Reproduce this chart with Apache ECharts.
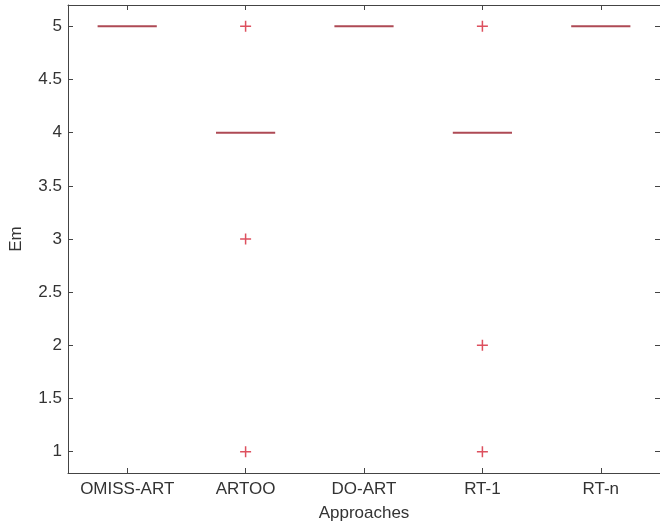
<!DOCTYPE html>
<html>
<head>
<meta charset="utf-8">
<script src="https://cdn.jsdelivr.net/npm/echarts@6/dist/echarts.min.js"></script>
<style>
  html, body { margin: 0; padding: 0; background: #fff; }
  #chart { width: 660px; height: 527px; }
</style>
</head>
<body>
<div id="chart"></div>
<script>
// Approaches along the x axis
var approaches = ['OMISS-ART', 'ARTOO', 'DO-ART', 'RT-1', 'RT-n'];
// Median Em per approach (boxes collapse onto the median)
var medians = [5, 4, 5, 4, 5];
// Outlier points: [approach index, Em]
var outliers = [
  [1, 5], [1, 3], [1, 1],
  [3, 5], [3, 2], [3, 1]
];
// Y-axis tick values
var yTicks = [1, 1.5, 2, 2.5, 3, 3.5, 4, 4.5, 5];
var yMin = 0.8, yMax = 5.2;

var textColor = '#333';
var axisColor = '#444';
var fontFamily = 'Liberation Sans, Arial, sans-serif';

var medianData = medians.map(function (v, i) { return [i, v]; });

var chart = echarts.init(document.getElementById('chart'), null, { renderer: 'canvas' });

var xBase = {
  type: 'category',
  data: approaches,
  boundaryGap: true,
  axisLine: { show: true, onZero: false, lineStyle: { color: axisColor, width: 1 } },
  axisTick: { show: true, inside: true, length: 5, alignWithLabel: true, interval: 0, lineStyle: { color: axisColor } },
  splitLine: { show: false }
};
var yBase = {
  type: 'value',
  min: yMin,
  max: yMax,
  axisLine: { show: true, onZero: false, lineStyle: { color: axisColor, width: 1 } },
  axisTick: { show: true, inside: true, length: 5, customValues: yTicks, lineStyle: { color: axisColor } },
  splitLine: { show: false }
};

chart.setOption({
  animation: false,
  backgroundColor: '#fff',
  grid: { left: 67, top: 5, width: 593, height: 468 },
  xAxis: [
    Object.assign({}, xBase, {
      position: 'bottom',
      name: 'Approaches',
      nameLocation: 'middle',
      nameGap: 32,
      nameTextStyle: { color: textColor, fontSize: 17, fontFamily: fontFamily },
      axisLabel: { show: true, interval: 0, margin: 8, color: textColor, fontSize: 17, fontFamily: fontFamily }
    }),
    Object.assign({}, xBase, {
      position: 'top',
      axisLabel: { show: false }
    })
  ],
  yAxis: [
    Object.assign({}, yBase, {
      position: 'left',
      name: 'Em',
      nameLocation: 'middle',
      nameGap: 43,
      nameTextStyle: { color: textColor, fontSize: 17, fontFamily: fontFamily },
      axisLabel: { show: true, margin: 6, customValues: yTicks, color: textColor, fontSize: 17, fontFamily: fontFamily }
    }),
    Object.assign({}, yBase, {
      position: 'right',
      axisLabel: { show: false }
    })
  ],
  series: [
    {
      // median lines, half a category wide
      type: 'custom',
      xAxisIndex: 0,
      yAxisIndex: 0,
      data: medianData,
      renderItem: function (params, api) {
        var c = api.coord([api.value(0), api.value(1)]);
        var half = api.size([1, 0])[0] * 0.25;
        return {
          type: 'line',
          shape: { x1: c[0] - half, y1: c[1], x2: c[0] + half, y2: c[1] },
          style: { stroke: '#ae4a55', lineWidth: 2 }
        };
      },
      silent: true
    },
    {
      type: 'scatter',
      xAxisIndex: 0,
      yAxisIndex: 0,
      data: outliers,
      symbol: 'path://M0,5 L10,5 M5,0 L5,10',
      symbolSize: 11,
      itemStyle: { color: 'rgba(0,0,0,0)', borderColor: '#d42436', borderWidth: 1.5 },
      silent: true
    }
  ]
});
</script>
</body>
</html>
